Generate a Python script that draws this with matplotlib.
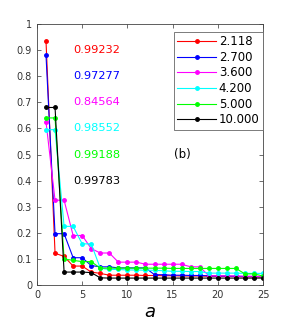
import matplotlib.pyplot as plt
import numpy as np

a = np.arange(1, 26)

labels = ["2.118", "2.700", "3.600", "4.200", "5.000", "10.000"]
colors = ["#ff0000", "#0000ff", "#ff00ff", "#00ffff", "#00ff00", "#000000"]
scores = ["0.99232", "0.97277", "0.84564", "0.98552", "0.99188", "0.99783"]

s_2118 = [0.935, 0.122, 0.110, 0.073, 0.073, 0.050, 0.045, 0.038, 0.038, 0.038,
          0.038, 0.037, 0.037, 0.036, 0.036, 0.035, 0.035, 0.035, 0.034, 0.034,
          0.033, 0.033, 0.032, 0.032, 0.031]
s_2700 = [0.880, 0.197, 0.197, 0.105, 0.105, 0.075, 0.070, 0.070, 0.066, 0.066,
          0.066, 0.066, 0.040, 0.040, 0.038, 0.038, 0.037, 0.037, 0.036, 0.035,
          0.035, 0.034, 0.033, 0.033, 0.032]
s_3600 = [0.625, 0.325, 0.325, 0.190, 0.190, 0.140, 0.123, 0.123, 0.088, 0.088,
          0.088, 0.080, 0.080, 0.080, 0.080, 0.080, 0.070, 0.070, 0.036, 0.036,
          0.035, 0.035, 0.034, 0.034, 0.033]
s_4200 = [0.595, 0.595, 0.225, 0.225, 0.158, 0.158, 0.065, 0.060, 0.060, 0.058,
          0.058, 0.057, 0.057, 0.055, 0.053, 0.053, 0.052, 0.052, 0.046, 0.046,
          0.046, 0.046, 0.045, 0.045, 0.045]
s_5000 = [0.640, 0.640, 0.100, 0.095, 0.090, 0.090, 0.065, 0.065, 0.065, 0.065,
          0.065, 0.065, 0.065, 0.065, 0.064, 0.064, 0.064, 0.064, 0.064, 0.064,
          0.064, 0.064, 0.043, 0.043, 0.035]
s_10000 = [0.680, 0.680, 0.050, 0.050, 0.050, 0.048, 0.028, 0.027, 0.027, 0.027,
           0.027, 0.027, 0.027, 0.027, 0.027, 0.027, 0.027, 0.027, 0.027, 0.027,
           0.027, 0.027, 0.027, 0.027, 0.027]

series = [s_2118, s_2700, s_3600, s_4200, s_5000, s_10000]
score_y = [0.9, 0.8, 0.7, 0.6, 0.5, 0.4]

fig = plt.figure(figsize=(2.91, 3.27), dpi=100)
ax = fig.add_axes([0.127, 0.128, 0.777, 0.799])

for ys, c, lab in zip(series, colors, labels):
    ax.plot(a, ys, color=c, lw=0.8, marker="o", ms=2.5, label=lab)

for txt, c, y in zip(scores, colors, score_y):
    ax.text(4, y, txt, color=c, fontsize=8.2, va="center", ha="left")

ax.text(15.2, 0.5, "(b)", fontsize=8.5, va="center", ha="left")

ax.set_xlim(0, 25)
ax.set_ylim(0, 1)
ax.set_xticks([0, 5, 10, 15, 20, 25])
ax.set_yticks(np.arange(0, 1.01, 0.1))
ax.set_yticklabels(["0", "0.1", "0.2", "0.3", "0.4", "0.5", "0.6", "0.7", "0.8", "0.9", "1"])
ax.tick_params(direction="in", top=True, right=True, labelsize=7, length=3, width=0.5, colors="#333333")
for sp in ax.spines.values():
    sp.set_linewidth(0.6)
    sp.set_color("#444444")
ax.set_xlabel("$a$", fontsize=13, labelpad=2)

leg = ax.legend(loc="upper right", bbox_to_anchor=(1.0, 0.97), fontsize=8.5,
                handlelength=3.3, handletextpad=0.2, borderpad=0.3,
                labelspacing=0.22, fancybox=False, framealpha=1, borderaxespad=0.0)
leg.get_frame().set_edgecolor("#666666")
leg.get_frame().set_linewidth(0.6)

fig.savefig("out.png", dpi=100)
